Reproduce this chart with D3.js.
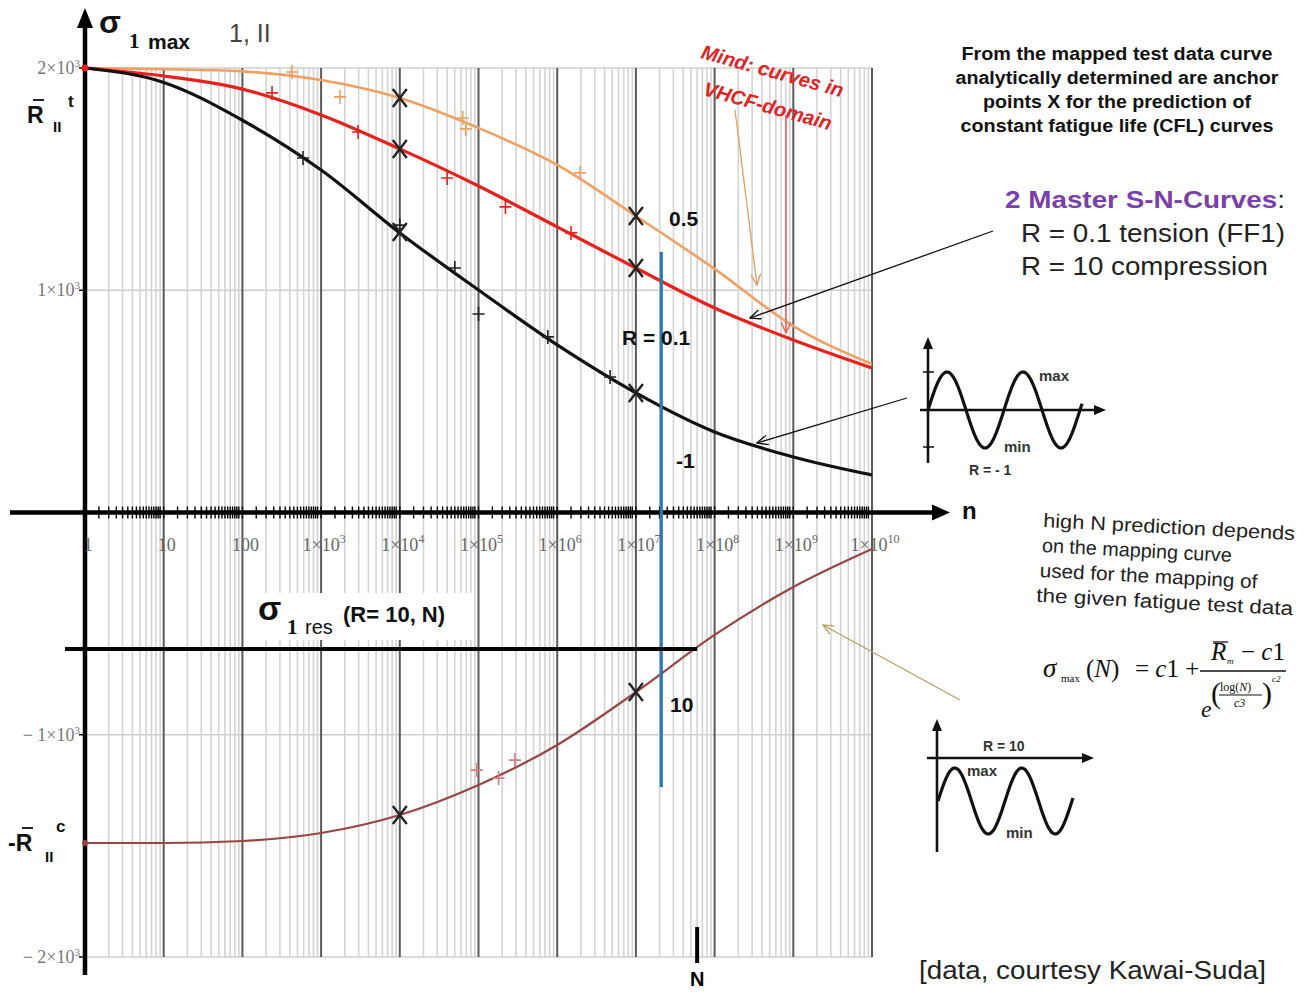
<!DOCTYPE html>
<html><head><meta charset="utf-8">
<script src="https://cdn.jsdelivr.net/npm/d3@7"></script>
<style>body{margin:0;background:#fff}svg{display:block}</style>
</head><body><svg id="c" width="1305" height="993"></svg>
<script>
// ---------- data ----------
const cycles   = [1, 1e1, 1e2, 1e3, 1e4, 1e5, 1e6, 1e7, 1e8, 1e9, 1e10];
const sigmaRm1 = [2000, 1935, 1765, 1541, 1258, 1001, 754, 538, 362, 250, 169];
const sigmaR01 = [2000, 1964, 1905, 1789, 1636, 1469, 1285, 1100, 920, 776, 650];
const sigmaR05 = [2000, 1995, 1985, 1946, 1865, 1730, 1564, 1334, 1096, 839, 668];
const sigmaR10 = [-1487, -1487, -1478, -1442, -1361, -1226, -1046, -808, -551, -335, -164];

const testNRm1 = [589, 1e4, 5e4, 1e5, 7.6e5, 4.7e6];
const testSRm1 = [1595, 1293, 1100, 893, 790, 610];
const testNR01 = [238, 2950, 4e4, 2.2e5, 1.5e6];
const testSR01 = [1888, 1712, 1505, 1375, 1258];
const testNR05 = [427, 1740, 6.3e4, 6.9e4, 1.95e6];
const testSR05 = [1982, 1870, 1775, 1726, 1528];
const testNR10 = [9.5e4, 1.8e5, 2.9e5];
const testSR10 = [-1159, -1195, -1114];

const anchorN   = [1e4, 1e7];
const anchorRm1 = [1262, 538];
const anchorR01 = [1636, 1100];
const anchorR05 = [1865, 1334];
const anchorR10 = [-1361, -808];

const blueN = 2.1e7, blueTop = 1172, blueBottom = -1235;
const resLevel = -614, resN = 6e7;

const xTickExp = [0,1,2,3,4,5,6,7,8,9,10];
const yTickVals = [2000, 1000, -1000, -2000];
const yTickLabels = [["2×10","3"],["1×10","3"],["− 1×10","3"],["− 2×10","3"]];

// ---------- setup ----------
const svg = d3.select("#c");
const SANS = "'Liberation Sans', Arial, sans-serif";
const SERIF = "'Liberation Serif', 'Times New Roman', serif";
const x = d3.scaleLog().domain([1, 1e10]).range([85, 872]);
const y = d3.scaleLinear().domain([-2000, 2000]).range([957, 68]);

const defs = svg.append("defs");
function arrowMarker(id, color) {
  defs.append("marker").attr("id", id).attr("viewBox", "0 0 12 10")
    .attr("refX", 11).attr("refY", 5).attr("markerWidth", 12).attr("markerHeight", 10)
    .attr("markerUnits", "userSpaceOnUse").attr("orient", "auto")
    .append("path").attr("d", "M0,0 L11,5 L0,10").attr("fill", "none")
    .attr("stroke", color).attr("stroke-width", 1.4);
}
arrowMarker("aBlack", "#111");
arrowMarker("aOrange", "#e0a060");
arrowMarker("aPink", "#e06666");
arrowMarker("aOlive", "#b5a165");

// ---------- grid ----------
const g = svg.append("g");
const minor = [];
for (let d = 0; d < 10; d++) for (let k = 2; k <= 9; k++) minor.push(k * Math.pow(10, d));
g.selectAll(".mg").data(minor).join("line")
  .attr("x1", d => x(d)).attr("x2", d => x(d)).attr("y1", y(2000)).attr("y2", y(-2000))
  .attr("stroke", "#d4d4d4").attr("stroke-width", 1.6);
g.selectAll(".hg").data(yTickVals).join("line")
  .attr("x1", x(1)).attr("x2", x(1e10)).attr("y1", d => y(d)).attr("y2", d => y(d))
  .attr("stroke", "#cfcfcf").attr("stroke-width", 1.6);
g.selectAll(".dg").data(xTickExp.slice(1)).join("line")
  .attr("x1", d => x(Math.pow(10, d))).attr("x2", d => x(Math.pow(10, d)))
  .attr("y1", y(2000)).attr("y2", y(-2000))
  .attr("stroke", "#5a5a5a").attr("stroke-width", 2);

// ---------- axes ----------
svg.append("line").attr("x1", 10).attr("x2", 935).attr("y1", y(0)).attr("y2", y(0))
  .attr("stroke", "#000").attr("stroke-width", 4.5);
svg.append("path").attr("d", `M932,${y(0)-8} L950,${y(0)} L932,${y(0)+8} Z`).attr("fill", "#000");
const tickPos = [];
for (let d = 0; d < 10; d++) for (let k = 1; k <= 9; k += 0.5) tickPos.push(k * Math.pow(10, d));
svg.selectAll(".xt").data(tickPos).join("line")
  .attr("x1", d => x(d)).attr("x2", d => x(d)).attr("y1", y(0) - 6).attr("y2", y(0) + 6)
  .attr("stroke", "#000").attr("stroke-width", 1.4);
svg.append("line").attr("x1", x(1)).attr("x2", x(1)).attr("y1", 975).attr("y2", 22)
  .attr("stroke", "#000").attr("stroke-width", 4.5);
svg.append("path").attr("d", `M${x(1)-8},28 L${x(1)},8 L${x(1)+8},28 Z`).attr("fill", "#000");
svg.selectAll(".yt").data(yTickVals).join("line")
  .attr("x1", x(1) - 6).attr("x2", x(1)).attr("y1", d => y(d)).attr("y2", d => y(d))
  .attr("stroke", "#000").attr("stroke-width", 1.5);

const xl = svg.append("g").attr("font-family", SERIF).attr("font-size", 18).attr("fill", "#666");
xTickExp.forEach(e => {
  const t = xl.append("text").attr("x", x(Math.pow(10, e)) + 3).attr("y", 551).attr("text-anchor", "middle");
  if (e === 0) t.text("1");
  else if (e === 1) t.text("10");
  else if (e === 2) t.text("100");
  else {
    t.append("tspan").text("1×10");
    t.append("tspan").attr("font-size", 12).attr("dy", -8).text(String(e));
  }
});
const yl = svg.append("g").attr("font-family", SERIF).attr("font-size", 18).attr("fill", "#777");
yTickVals.forEach((v, i) => {
  const t = yl.append("text").attr("x", 80).attr("y", y(v) + 6).attr("text-anchor", "end");
  t.append("tspan").text(yTickLabels[i][0]);
  t.append("tspan").attr("font-size", 11).attr("dy", -7).text(yTickLabels[i][1]);
});

// ---------- curves ----------
const line = d3.line().x(d => x(d[0])).y(d => y(d[1])).curve(d3.curveMonotoneX);
function curve(vals, color, w) {
  svg.append("path").datum(cycles.map((c, i) => [c, vals[i]])).attr("d", line)
    .attr("fill", "none").attr("stroke", color).attr("stroke-width", w);
}
curve(sigmaR05, "#f2a062", 2.6);
curve(sigmaR01, "#e8211d", 3.2);
curve(sigmaRm1, "#111", 3.2);
curve(sigmaR10, "#9a4545", 2.2);

function plus(ns, ss, color) {
  svg.append("g").selectAll("path").data(ns.map((n, i) => [n, ss[i]])).join("path")
    .attr("transform", d => `translate(${x(d[0])},${y(d[1])})`)
    .attr("d", "M-6,0 L6,0 M0,-7 L0,7").attr("stroke", color).attr("stroke-width", 1.6).attr("fill", "none");
}
plus(testNR05, testSR05, "#f0a060");
plus(testNR01, testSR01, "#e8211d");
plus(testNRm1, testSRm1, "#222");
plus(testNR10, testSR10, "#d08080");

function anchors(vals) {
  svg.append("g").selectAll("path").data(anchorN.map((n, i) => [n, vals[i]])).join("path")
    .attr("transform", d => `translate(${x(d[0])},${y(d[1])})`)
    .attr("d", "M-7,-9 L7,9 M7,-9 L-7,9").attr("stroke", "#222").attr("stroke-width", 2.4).attr("fill", "none");
}
anchors(anchorR05); anchors(anchorR01); anchors(anchorRm1); anchors(anchorR10);

svg.append("circle").attr("cx", x(1)).attr("cy", y(2000)).attr("r", 3.5).attr("fill", "#e8211d");
svg.append("circle").attr("cx", x(1)).attr("cy", y(sigmaR10[0])).attr("r", 3).attr("fill", "#9a4545");

svg.append("line").attr("x1", x(blueN)).attr("x2", x(blueN)).attr("y1", y(blueTop)).attr("y2", y(blueBottom))
  .attr("stroke", "#2a7ab5").attr("stroke-width", 3.2);
svg.append("line").attr("x1", 65).attr("x2", x(resN)).attr("y1", y(resLevel)).attr("y2", y(resLevel))
  .attr("stroke", "#000").attr("stroke-width", 4);
svg.append("line").attr("x1", x(resN)).attr("x2", x(resN)).attr("y1", 927).attr("y2", 963)
  .attr("stroke", "#000").attr("stroke-width", 4);
svg.append("text").attr("x", x(resN)).attr("y", 986).attr("text-anchor", "middle")
  .attr("font-family", SANS).attr("font-weight", "bold").attr("font-size", 20).text("N");

// ---------- labels on the chart ----------
const lab = (tx, ty, txt, size, opts = {}) => {
  const t = svg.append("text").attr("x", tx).attr("y", ty)
    .attr("font-family", opts.family || SANS).attr("font-size", size)
    .attr("font-weight", opts.weight || "bold").attr("fill", opts.fill || "#111")
    .attr("font-style", opts.style || "normal").text(txt);
  if (opts.len) t.attr("textLength", opts.len).attr("lengthAdjust", "spacingAndGlyphs");
  return t;
};
lab(669, 226, "0.5", 21);
lab(622, 345, "R = 0.1", 21);
lab(676, 468, "-1", 21);
lab(670, 712, "10", 21);
lab(962, 519, "n", 24);

lab(99, 33, "σ", 32);
lab(129, 48, "1", 21, { family: SERIF });
lab(148, 49, "max", 21);
lab(229, 42, "1, II", 25, { weight: "normal", fill: "#444" });

lab(27, 123, "R", 23);
svg.append("line").attr("x1", 33).attr("x2", 44).attr("y1", 100).attr("y2", 100).attr("stroke", "#222").attr("stroke-width", 2);
lab(53, 132, "II", 15);
lab(68, 107, "t", 17);
lab(8, 851, "-R", 23);
svg.append("line").attr("x1", 22).attr("x2", 33).attr("y1", 828).attr("y2", 828).attr("stroke", "#222").attr("stroke-width", 2);
lab(45, 862, "II", 15);
lab(56, 832, "c", 17);

svg.append("rect").attr("x", 244).attr("y", 593).attr("width", 228).attr("height", 47).attr("fill", "#fff");
lab(258, 620, "σ", 34);
lab(287, 634, "1", 21, { family: SERIF });
lab(305, 634, "res", 20, { weight: "normal" });
lab(343, 622, "(R= 10, N)", 22);

svg.append("g").attr("transform", "translate(700,58) rotate(15.5)")
  .call(gg => {
    gg.append("text").attr("font-family", SANS).attr("font-size", 20).attr("font-weight", "bold")
      .attr("font-style", "italic").attr("fill", "#e02424").text("Mind: curves in");
    gg.append("text").attr("x", 12).attr("y", 35).attr("font-family", SANS).attr("font-size", 20).attr("font-weight", "bold")
      .attr("font-style", "italic").attr("fill", "#e02424").text("VHCF-domain");
  });

const arr = (x1, y1, x2, y2, color, m, w) => svg.append("line").attr("x1", x1).attr("y1", y1)
  .attr("x2", x2).attr("y2", y2).attr("stroke", color).attr("stroke-width", w || 1.3)
  .attr("marker-end", `url(#${m})`);
arr(735, 110, 757, 285, "#e0a060", "aOrange");
arr(786, 115, 786, 333, "#e06666", "aPink", 1.6);
arr(993, 231, 750, 318, "#111", "aBlack");
arr(907, 398, 757, 443, "#111", "aBlack");
arr(960, 700, 823, 625, "#b5a165", "aOlive");

// ---------- right-hand text ----------
const rtLines = ["From the mapped test data curve", "analytically  determined are anchor",
  "points X for the prediction of", "constant fatigue life (CFL) curves"];
const rtLens = [311, 323, 268, 313];
const rt = svg.append("g").attr("font-family", SANS).attr("font-weight", "bold").attr("font-size", 17.5)
  .attr("fill", "#111").attr("text-anchor", "middle");
rtLines.forEach((s, i) => rt.append("text").attr("x", 1117).attr("y", 60 + i * 24)
  .attr("textLength", rtLens[i]).attr("lengthAdjust", "spacingAndGlyphs").text(s));

const mt = svg.append("text").attr("x", 1005).attr("y", 208).attr("font-family", SANS)
  .attr("font-weight", "bold").attr("font-size", 24)
  .attr("textLength", 280).attr("lengthAdjust", "spacingAndGlyphs");
mt.append("tspan").attr("fill", "#7a3fa8").text("2 Master S-N-Curves");
mt.append("tspan").attr("fill", "#222").attr("font-weight", "normal").text(":");
lab(1021, 242, "R = 0.1 tension (FF1)", 25, { weight: "normal", fill: "#222", len: 264 });
lab(1021, 275, "R = 10 compression", 25, { weight: "normal", fill: "#222", len: 247 });

const hnLines = ["high N prediction depends", "on the mapping curve", "used for the mapping of", "the given fatigue test data"];
const hnLens = [252, 190, 218, 257];
const hnX = [1043, 1043, 1042, 1040];
const hn = svg.append("g").attr("transform", "rotate(3,1043,527)")
  .attr("font-family", SANS).attr("font-size", 19.5).attr("fill", "#222");
hnLines.forEach((s, i) => hn.append("text").attr("x", hnX[i]).attr("y", 527 + i * 25)
  .attr("textLength", hnLens[i]).attr("lengthAdjust", "spacingAndGlyphs").text(s));

// formula
const fs = svg.append("g").attr("font-family", SERIF).attr("fill", "#111");
fs.append("text").attr("x", 1043).attr("y", 677).attr("font-size", 27).attr("font-style", "italic").text("σ");
fs.append("text").attr("x", 1061).attr("y", 682).attr("font-size", 11).text("max");
fs.append("text").attr("x", 1086).attr("y", 677).attr("font-size", 25).html("(<tspan font-style='italic'>N</tspan>)");
fs.append("text").attr("x", 1135).attr("y", 677).attr("font-size", 25).html("= <tspan font-style='italic'>c</tspan>1 +");
fs.append("text").attr("x", 1211).attr("y", 660).attr("font-size", 25).attr("font-style", "italic").text("R");
fs.append("line").attr("x1", 1213).attr("x2", 1228).attr("y1", 642).attr("y2", 642).attr("stroke", "#111").attr("stroke-width", 1.3);
fs.append("text").attr("x", 1227).attr("y", 664).attr("font-size", 9).attr("font-style", "italic").text("m");
fs.append("text").attr("x", 1241).attr("y", 660).attr("font-size", 25).html("− <tspan font-style='italic'>c</tspan>1");
fs.append("line").attr("x1", 1200).attr("x2", 1286).attr("y1", 671).attr("y2", 671).attr("stroke", "#111").attr("stroke-width", 1.4);
fs.append("text").attr("x", 1201).attr("y", 717).attr("font-size", 24).attr("font-style", "italic").text("e");
fs.append("text").attr("x", 1211).attr("y", 703).attr("font-size", 30).text("(");
fs.append("text").attr("x", 1220).attr("y", 691).attr("font-size", 12).html("log(<tspan font-style='italic'>N</tspan>)");
fs.append("line").attr("x1", 1219).attr("x2", 1262).attr("y1", 695).attr("y2", 695).attr("stroke", "#111").attr("stroke-width", 1);
fs.append("text").attr("x", 1234).attr("y", 707).attr("font-size", 12).attr("font-style", "italic").text("c3");
fs.append("text").attr("x", 1262).attr("y", 703).attr("font-size", 30).text(")");
fs.append("text").attr("x", 1272).attr("y", 682).attr("font-size", 9).attr("font-style", "italic").text("c2");

lab(919, 979, "[data, courtesy Kawai-Suda]", 25, { weight: "normal", fill: "#222", len: 347 });

// ---------- schematic load-cycle insets ----------
function inset(ax, ayTop, ayBot, hy, hx1, hx2, sx0, sx1, cy, amp, per) {
  const ig = svg.append("g");
  ig.append("line").attr("x1", ax).attr("x2", ax).attr("y1", ayBot).attr("y2", ayTop + 8).attr("stroke", "#111").attr("stroke-width", 2.6);
  ig.append("path").attr("d", `M${ax-5},${ayTop+12} L${ax},${ayTop} L${ax+5},${ayTop+12} Z`).attr("fill", "#111");
  ig.append("line").attr("x1", hx1).attr("x2", hx2 - 8).attr("y1", hy).attr("y2", hy).attr("stroke", "#111").attr("stroke-width", 2.6);
  ig.append("path").attr("d", `M${hx2-12},${hy-5} L${hx2},${hy} L${hx2-12},${hy+5} Z`).attr("fill", "#111");
  const pts = d3.range(sx0, sx1 + 0.5, 1).map(px => [px, cy - amp * Math.sin(2 * Math.PI * (px - sx0) / per)]);
  ig.append("path").attr("d", d3.line()(pts)).attr("fill", "none").attr("stroke", "#111").attr("stroke-width", 3.2);
  return ig;
}
const i1 = inset(928, 337, 463, 410, 920, 1106, 928, 1082, 410, 38, 76);
i1.append("line").attr("x1", 923).attr("x2", 934).attr("y1", 372).attr("y2", 372).attr("stroke", "#111").attr("stroke-width", 1.5);
i1.append("line").attr("x1", 923).attr("x2", 934).attr("y1", 447).attr("y2", 447).attr("stroke", "#111").attr("stroke-width", 1.5);
lab(1039, 381, "max", 15, { fill: "#333" });
lab(1004, 452, "min", 15, { fill: "#333" });
lab(969, 475, "R = - 1", 14, { fill: "#333" });

inset(937, 719, 852, 758, 927, 1094, 938, 1073, 801, 33, 67);
lab(983, 751, "R = 10", 14, { fill: "#333" });
lab(967, 776, "max", 15, { fill: "#333" });
lab(1006, 838, "min", 15, { fill: "#333" });
</script></body></html>
